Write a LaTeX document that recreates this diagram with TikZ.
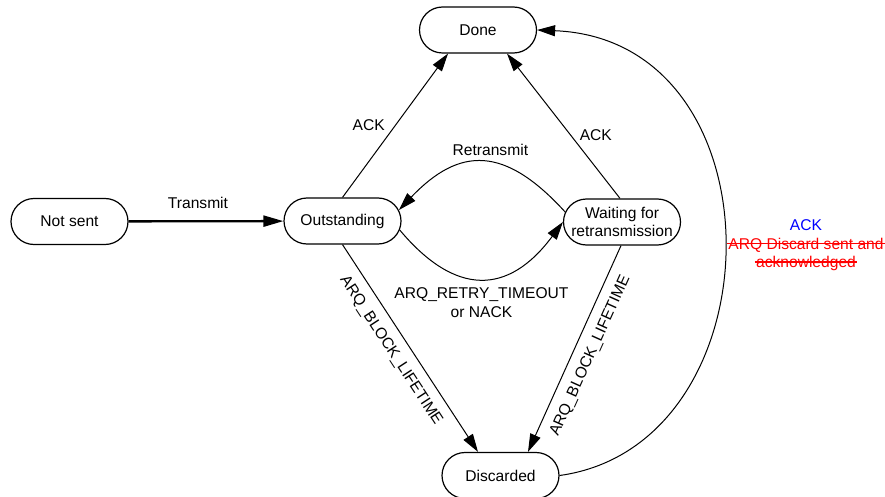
\documentclass[tikz,border=0pt]{standalone}
\usepackage{fontspec}
\setmainfont{Liberation Sans}
\usetikzlibrary{shapes.misc,arrows.meta}
\begin{document}
\begin{tikzpicture}[x=1pt,y=-1pt,
  every node/.style={font=\fontsize{15.6}{18.5}\selectfont},
  state/.style={draw, line width=1.2pt, rounded rectangle, minimum width=121pt, minimum height=46pt, inner sep=2pt, align=center},
  edge/.style={line width=1pt, -{Triangle[length=18pt,width=11pt]}},
  lbl/.style={inner sep=1pt},
  strike/.style={red, line width=1.3pt}
]
\useasboundingbox (0,0) rectangle (885,497);
\node[state] (ns) at (69.5,221.5) {Not sent};
\node[state] (out) at (342.5,221) {Outstanding};
\node[state] (done) at (478,30) {Done};
\node[state] (wait) at (622,222) {Waiting for\\retransmission};
\node[state] (disc) at (500.5,475.5) {Discarded};

\draw[line width=2.3pt, -{Triangle[length=20pt,width=11pt]}] (ns) -- node[lbl, above=10pt, xshift=-8pt]{Transmit} (out);
\draw[edge] (out.north) -- node[lbl, pos=.5, left=9pt]{ACK} ([xshift=-30pt]done.south);
\draw[edge] ([xshift=-2pt]wait.north) -- node[lbl, pos=.44, right=8pt]{ACK} ([xshift=29pt]done.south);
\draw[edge] (wait.170) .. controls (505,146) and (460,146) .. node[lbl, above=5pt, xshift=8pt]{Retransmit} (out.11);
\draw[edge] (out.-9) .. controls (455,296) and (508,296) .. node[lbl, below=8pt, align=center]{ARQ\_RETRY\_TIMEOUT\\or NACK} (wait.west);
\draw[edge] (out.south) -- node[lbl, pos=.465, sloped, below=9pt]{ARQ\_BLOCK\_LIFETIME} ([xshift=-22.5pt]disc.north);
\draw[edge] ([xshift=-1pt]wait.south) -- node[lbl, pos=.5, sloped, below=9pt]{ARQ\_BLOCK\_LIFETIME} ([xshift=27.5pt]disc.north);
\draw[edge] (disc.east) .. controls (780,445) and (785,40) .. (done.east);

\node[lbl, text=blue, anchor=base] (ack3) at (806,230) {ACK};
\node[lbl, text=red, anchor=base] (r1) at (806,249) {ARQ Discard sent and};
\node[lbl, text=red, anchor=base] (r2) at (806,267) {acknowledged};
\draw[strike] ([yshift=5.5pt]r1.base west) -- ([yshift=5.5pt]r1.base east);
\draw[strike] ([yshift=5pt]r2.base west) -- ([yshift=5pt]r2.base east);
\end{tikzpicture}
\end{document}
